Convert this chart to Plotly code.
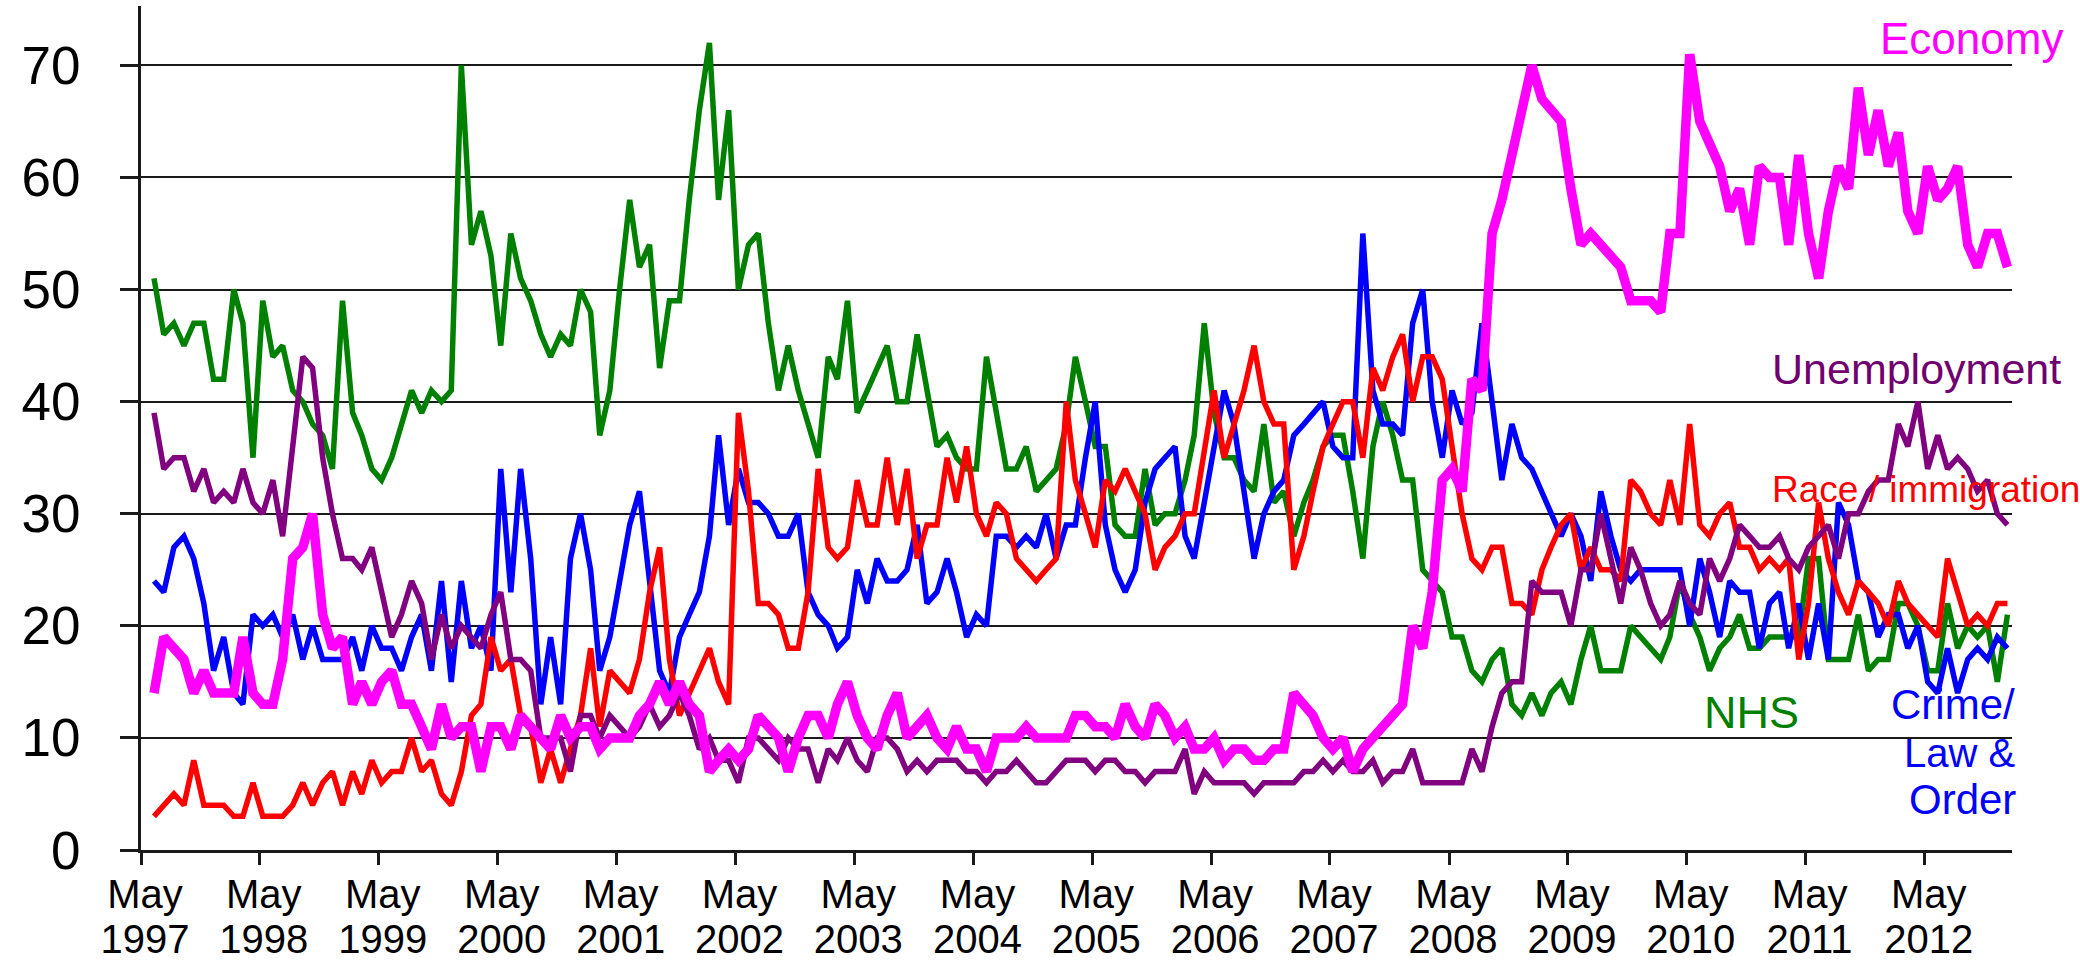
import pandas as pd
import plotly.graph_objects as go

# Monthly survey points, June 1997 - January 2013 (fieldwork around the 10th)
dates = pd.date_range("1997-06-01", periods=188, freq="MS") + pd.Timedelta(days=9)

nhs = [51,46,47,45,47,47,42,42,50,47,
       35,49,44,45,41,40,38,37,34,49,
       39,37,34,33,35,38,41,39,41,40,
       41,70,54,57,53,45,55,51,49,46,
       44,46,45,50,48,37,41,50,58,52,
       54,43,49,49,58,66,72,58,66,50,
       54,55,47,41,45,41,38,35,44,42,
       49,39,41,43,45,40,40,46,41,36,
       37,35,34,34,44,39,34,34,36,32,
       33,34,38,44,40,36,36,29,28,28,
       34,29,30,30,33,37,47,39,35,35,
       33,32,38,31,32,28,31,33,36,37,
       37,32,26,36,40,37,33,33,25,24,
       23,19,19,16,15,17,18,13,12,14,
       12,14,15,13,17,20,16,16,16,20,
       19,18,17,19,24,21,19,16,18,19,
       21,18,18,19,19,19,19,26,26,17,
       17,17,21,16,17,17,22,22,20,16,
       16,22,18,20,19,20,15,21]

crime = [24,23,27,28,26,22,16,19,14,13,
         21,20,21,19,21,17,20,17,17,17,
         19,16,20,18,18,16,19,21,16,24,
         15,24,18,20,16,34,23,34,26,13,
         19,13,26,30,25,16,19,24,29,32,
         24,16,14,19,21,23,28,37,29,34,
         31,31,30,28,28,30,23,21,20,18,
         19,25,22,26,24,24,25,29,22,23,
         26,23,19,21,20,28,28,27,28,27,
         30,26,29,29,35,40,29,25,23,25,
         31,34,35,36,28,26,31,36,41,38,
         32,26,30,32,33,37,38,39,40,36,
         35,35,55,41,38,38,37,47,50,40,
         35,41,38,39,47,40,33,38,35,34,
         32,30,28,30,28,24,32,28,25,24,
         25,25,25,25,25,20,26,23,19,24,
         23,23,18,22,23,18,22,17,22,17,
         31,29,24,23,19,21,21,18,20,15,
         14,18,14,17,18,17,19,18]

race = [3,4,5,4,8,4,4,4,3,3,
        6,3,3,3,4,6,4,6,7,4,
        7,5,8,6,7,7,10,7,8,5,
        4,7,12,13,19,16,17,12,11,6,
        9,6,9,12,18,11,16,15,14,17,
        23,27,17,12,14,16,18,15,13,39,
        32,22,22,21,18,18,23,34,27,26,
        27,33,29,29,35,29,34,26,29,29,
        35,31,36,30,28,31,30,26,25,24,
        25,26,40,33,30,27,33,32,34,32,
        30,25,27,28,30,30,36,41,35,38,
        41,45,40,38,38,25,28,32,36,38,
        40,40,35,43,41,44,46,40,44,44,
        42,36,30,26,25,27,27,22,22,21,
        25,27,29,30,25,27,25,25,24,33,
        32,30,29,33,29,38,29,28,30,31,
        27,27,25,26,25,26,17,22,31,26,
        23,21,24,23,22,20,24,22,21,20,
        19,26,23,20,21,20,22,22]

unemployment = [39,34,35,35,32,34,31,32,31,34,
                31,30,33,28,36,44,43,35,30,26,
                26,25,27,23,19,21,24,22,17,21,
                18,20,19,18,21,23,17,17,16,10,
                10,10,7,12,12,10,12,11,10,11,
                13,11,12,14,12,9,10,8,8,6,
                10,10,9,8,10,9,9,6,9,8,
                10,8,7,10,10,9,7,8,7,8,
                8,8,7,7,6,7,7,8,7,6,
                6,7,8,8,8,7,8,8,7,7,
                6,7,7,7,9,5,7,6,6,6,
                6,5,6,6,6,6,7,7,8,7,
                8,7,7,8,6,7,7,9,6,6,
                6,6,6,9,7,11,14,15,15,24,
                23,23,23,20,25,25,30,26,22,27,
                25,22,20,21,24,22,21,26,24,26,
                29,28,27,27,28,26,25,27,28,29,
                26,30,30,32,33,33,38,36,40,34,
                37,34,35,34,32,33,30,29]

economy = [14,19,18,17,14,16,14,14,14,19,
           14,13,13,17,26,27,30,21,18,19,
           13,15,13,15,16,13,13,11,9,13,
           10,11,11,7,11,11,9,12,11,10,
           9,12,10,11,11,9,10,10,10,12,
           13,15,13,15,13,12,7,8,9,8,
           9,12,11,10,7,10,12,12,10,13,
           15,12,10,9,12,14,10,11,12,10,
           9,11,9,9,7,10,10,10,11,10,
           10,10,10,12,12,11,11,10,13,11,
           10,13,12,10,11,9,9,10,8,9,
           9,8,8,9,9,14,13,12,10,9,
           10,7,9,10,11,12,13,20,18,23,
           33,34,32,42,41,55,58,62,66,70,
           67,66,65,59,54,55,54,53,52,49,
           49,49,48,55,55,71,65,63,61,57,
           59,54,61,60,60,54,62,55,51,57,
           61,59,68,62,66,61,64,57,55,61,
           58,59,61,54,52,55,55,52]

tick_years = list(range(1997, 2013))
tick_dates = [f"{y}-05-01" for y in tick_years]
tick_month = ["May"] * len(tick_years)
tick_year_text = [str(y) for y in tick_years]
y_ticks = [0, 10, 20, 30, 40, 50, 60, 70]

FONT = "Liberation Sans, Arial, sans-serif"
W, H = 2080, 961
L, R, T, B = 141, 68, 6, 111
PW, PH = W - L - R, H - T - B


def px(xp):
    return (xp - L) / PW


def py(yp):
    return (H - B - yp) / PH


series = [
    ("NHS", nhs, "#008000", 5.5),
    ("Crime/Law & Order", crime, "#0000FF", 5.5),
    ("Race / immigration", race, "#FF0000", 5.5),
    ("Unemployment", unemployment, "#800080", 5.5),
    ("Economy", economy, "#FF00FF", 9.5),
]

fig = go.Figure()
for name, vals, color, w in series:
    fig.add_trace(go.Scatter(x=dates, y=vals, mode="lines", name=name,
                             line=dict(color=color, width=w),
                             showlegend=False, hoverinfo="skip"))

# empty trace so that the year-row axis is drawn
fig.add_trace(go.Scatter(x=[tick_dates[0]], y=[None], xaxis="x2", yaxis="y",
                         mode="lines", showlegend=False, hoverinfo="skip"))

xrange = ["1997-05-01", "2013-01-24"]
fig.update_layout(
    width=W, height=H,
    margin=dict(l=L, r=R, t=T, b=B),
    paper_bgcolor="white", plot_bgcolor="white",
    font=dict(family=FONT, color="black"),
    xaxis=dict(type="date", range=xrange, tickmode="array",
               tickvals=tick_dates, ticktext=tick_month,
               showgrid=False, zeroline=False,
               showline=True, linecolor="#1a1a1a", linewidth=3,
               ticks="outside", ticklen=12, tickwidth=3, tickcolor="#1a1a1a",
               tickfont=dict(size=40, family=FONT), ticklabelstandoff=-5,
               ticklabelshift=4, automargin=False),
    xaxis2=dict(type="date", overlaying="x", matches="x", side="bottom",
                anchor="y", range=xrange, tickmode="array",
                tickvals=tick_dates, ticktext=tick_year_text,
                showgrid=False, zeroline=False, showline=False,
                ticks="outside", ticklen=12, tickcolor="rgba(0,0,0,0)",
                tickfont=dict(size=40, family=FONT), ticklabelstandoff=42,
                ticklabelshift=4, automargin=False),
    yaxis=dict(range=[0, 75.3], tickmode="array", tickvals=y_ticks,
               showgrid=True, gridcolor="#1a1a1a", gridwidth=2,
               zeroline=False, showline=True, linecolor="#1a1a1a",
               linewidth=3, ticks="outside", ticklen=18, tickwidth=3,
               tickcolor="#1a1a1a", tickfont=dict(size=53, family=FONT),
               ticklabelstandoff=29, automargin=False),
)

labels = [
    ("Economy", 1971, 39, "#FF00FF", 44, "center"),
    ("Unemployment", 1916, 369, "#700070", 43, "center"),
    ("Race / immigration", 1926, 489, "#FF0000", 37, "center"),
    ("NHS", 1751, 712, "#008000", 45, "center"),
    ("Crime/", 2017, 704, "#0000FF", 42, "right"),
    ("Law &", 2017, 753, "#0000FF", 40, "right"),
    ("Order", 2018, 799, "#0000FF", 42, "right"),
]
for text, x0, y0, color, size, anchor in labels:
    fig.add_annotation(x=px(x0), y=py(y0), xref="paper", yref="paper",
                       text=text, showarrow=False, xanchor=anchor,
                       yanchor="middle",
                       font=dict(color=color, size=size, family=FONT))

fig.write_html("out.html", config={"displayModeBar": False},
               post_script="document.body.style.margin='0';"
                           "document.body.style.overflow='hidden';")
